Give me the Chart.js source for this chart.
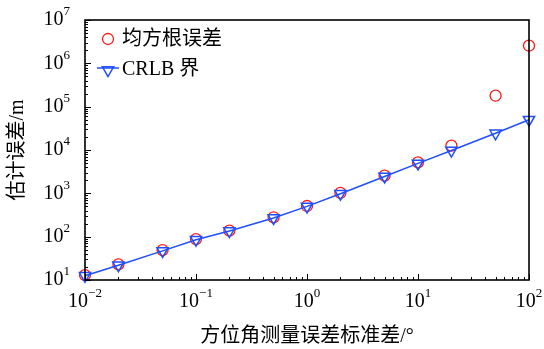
<!DOCTYPE html>
<html>
<head>
<meta charset="utf-8">
<script src="https://cdn.jsdelivr.net/npm/chart.js@4/dist/chart.umd.min.js"></script>
<style>
  html, body { margin: 0; padding: 0; background: #fff; }
  #wrap { width: 544px; height: 349px; }
</style>
</head>
<body>
<div id="wrap"><canvas id="errChart" width="544" height="349"></canvas></div>
<script>
// bearing measurement error std (deg)
const sigmaDeg = [0.01, 0.02, 0.05, 0.1, 0.2, 0.5, 1, 2, 5, 10, 20, 50, 100];
// estimation error (m)
const rmseValues = [13, 23, 49, 88, 138, 280, 510, 1020, 2560, 5200, 12600, 179000, 2550000];
const crlbValues = [12.5, 22, 47, 85, 135, 270, 500, 980, 2450, 4900, 9700, 24300, 50000];
// tick labels are 10^exp
const xTickExps = [-2, -1, 0, 1, 2];
const yTickExps = [1, 2, 3, 4, 5, 6, 7];

const serif = '"Liberation Serif", "Times New Roman", serif';
const cjk = '"Liberation Serif", "Noto Sans CJK SC", serif';
const RED = '#ff1a1a';
const BLUE = '#1f4fff';

// draws "10" with a superscript exponent, anchored by its centre / right edge
function drawPow(ctx, exp, x, y, align) {
    const base = '10';
    const sup = exp < 0 ? '\u2212' + Math.abs(exp) : String(exp);
    ctx.font = '20px ' + serif;
    const wb = ctx.measureText(base).width;
    ctx.font = '13px ' + serif;
    const ws = ctx.measureText(sup).width;
    const total = wb + ws;
    let left = align === 'right' ? x - total : x - total / 2;
    ctx.textAlign = 'left';
    ctx.textBaseline = 'middle';
    ctx.font = '20px ' + serif;
    ctx.fillText(base, left, y);
    ctx.font = '13px ' + serif;
    ctx.fillText(sup, left + wb, y - 8);
}

const frame = {
    id: 'frame',
    afterDatasetsDraw(chart) {
        const { ctx, chartArea: a, scales } = chart;
        const xs = scales.x, ys = scales.y;
        ctx.save();
        ctx.strokeStyle = '#000';
        ctx.fillStyle = '#000';

        // ticks, inward, bottom and left
        ctx.lineWidth = 1;
        ctx.beginPath();
        for (let e = -2; e <= 2; e++) {
            for (let m = 1; m <= 9; m++) {
                const v = m * Math.pow(10, e);
                if (v > 100) break;
                const px = Math.round(xs.getPixelForValue(v)) + 0.5;
                const len = m === 1 ? 6 : 3;
                ctx.moveTo(px, a.bottom);
                ctx.lineTo(px, a.bottom - len);
            }
        }
        for (let e = 1; e <= 7; e++) {
            for (let m = 1; m <= 9; m++) {
                const v = m * Math.pow(10, e);
                if (v > 1e7) break;
                const py = Math.round(ys.getPixelForValue(v)) + 0.5;
                const len = m === 1 ? 6 : 3;
                ctx.moveTo(a.left, py);
                ctx.lineTo(a.left + len, py);
            }
        }
        ctx.stroke();

        // box
        ctx.lineWidth = 1.6;
        ctx.strokeRect(a.left, a.top, a.right - a.left, a.bottom - a.top);

        // tick labels
        xTickExps.forEach(e => drawPow(ctx, e, xs.getPixelForValue(Math.pow(10, e)), a.bottom + 22, 'center'));
        yTickExps.forEach(e => drawPow(ctx, e, a.left - 15, ys.getPixelForValue(Math.pow(10, e)), 'right'));

        // axis titles
        ctx.font = '20px ' + cjk;
        ctx.textAlign = 'center';
        ctx.textBaseline = 'middle';
        ctx.fillText('方位角测量误差标准差/°', (a.left + a.right) / 2, 337);
        ctx.save();
        ctx.translate(18, (a.top + a.bottom) / 2);
        ctx.rotate(-Math.PI / 2);
        ctx.fillText('估计误差/m', 0, 0);
        ctx.restore();

        // legend
        ctx.textAlign = 'left';
        ctx.lineWidth = 1.3;
        ctx.strokeStyle = RED;
        ctx.beginPath();
        ctx.arc(108, 39, 5.5, 0, Math.PI * 2);
        ctx.stroke();
        ctx.fillStyle = '#000';
        ctx.fillText('均方根误差', 122, 40);

        ctx.strokeStyle = BLUE;
        ctx.lineWidth = 1.5;
        ctx.beginPath();
        ctx.moveTo(97, 68);
        ctx.lineTo(119, 68);
        ctx.stroke();
        ctx.fillStyle = 'rgba(0,0,0,0)';
        Chart.helpers.drawPoint(ctx, { pointStyle: 'triangle', rotation: 180, radius: 6.5, borderWidth: 1.5 }, 108, 70);
        ctx.fillStyle = '#000';
        ctx.fillText('CRLB 界', 122, 70);
        ctx.restore();
    }
};

const ctx = document.getElementById('errChart').getContext('2d');
new Chart(ctx, {
    type: 'line',
    data: {
        labels: sigmaDeg,
        datasets: [
            {
                label: 'CRLB 界',
                data: sigmaDeg.map((x, i) => ({ x, y: crlbValues[i] })),
                borderColor: BLUE,
                backgroundColor: 'rgba(0,0,0,0)',
                borderWidth: 1.5,
                pointStyle: 'triangle',
                rotation: 180,
                pointRadius: 6.5,
                pointBorderWidth: 1.5,
                pointBorderColor: BLUE,
                pointBackgroundColor: 'rgba(0,0,0,0)',
                tension: 0,
                clip: false,
                order: 1
            },
            {
                label: '均方根误差',
                data: sigmaDeg.map((x, i) => ({ x, y: rmseValues[i] })),
                showLine: false,
                pointStyle: 'circle',
                pointRadius: 5.5,
                pointBorderWidth: 1.3,
                pointBorderColor: RED,
                pointBackgroundColor: 'rgba(0,0,0,0)',
                clip: false,
                order: 2
            }
        ]
    },
    options: {
        responsive: false,
        animation: false,
        layout: { padding: { left: 85, top: 20, right: 15, bottom: 69 } },
        plugins: { legend: { display: false }, tooltip: { enabled: false } },
        scales: {
            x: { type: 'logarithmic', min: 0.01, max: 100, display: false },
            y: { type: 'logarithmic', min: 10, max: 1e7, display: false }
        }
    },
    plugins: [frame]
});
</script>
</body>
</html>
